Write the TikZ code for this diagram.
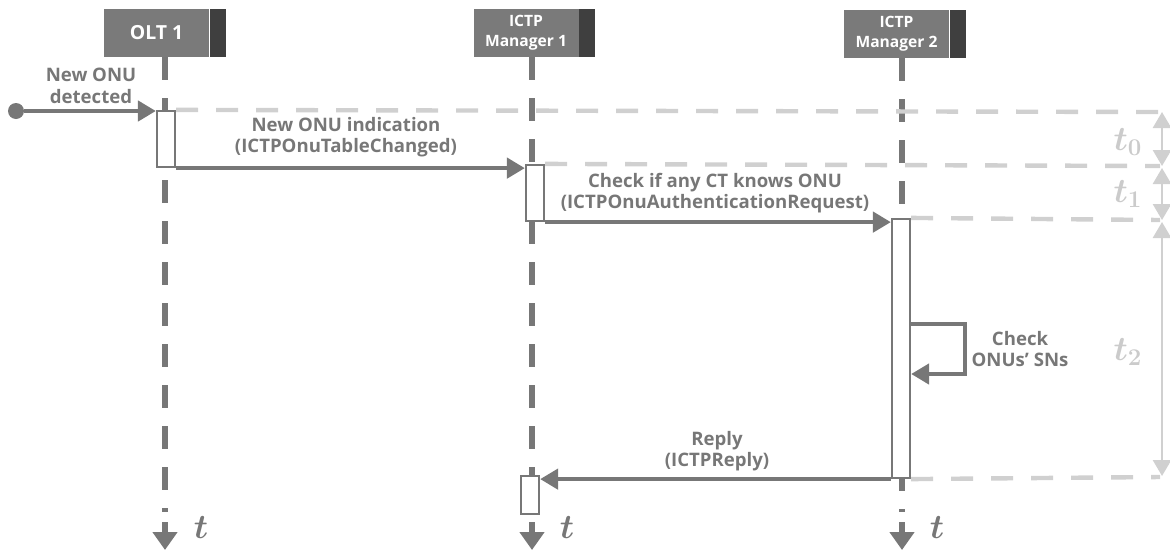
\documentclass[tikz,border=0pt]{standalone}
\usepackage{bm}
\usepackage{fontspec}
\setsansfont{Open Sans}
\usetikzlibrary{arrows.meta}
\definecolor{mid}{HTML}{777777}
\definecolor{hdr}{HTML}{7A7A7A}
\definecolor{hdrdark}{HTML}{3F3F3F}
\definecolor{light}{HTML}{D0D0D0}
\definecolor{tlight}{HTML}{CBCBCB}
\begin{document}
\begin{tikzpicture}[x=0.5pt,y=-0.5pt,
  font=\sffamily\bfseries,
  header/.style={fill=hdr, minimum width=52.5pt, minimum height=24pt, inner sep=0pt, text=white, align=center},
  strip/.style={fill=hdrdark, minimum width=8pt, minimum height=24pt, inner sep=0pt, anchor=west},
  life/.style={draw=mid, line width=2.6pt, dash pattern=on 11.5pt off 9pt},
  lifeend/.style={draw=mid, line width=2.6pt, -{Triangle[length=9pt,width=12pt]}},
  act/.style={draw=mid, fill=white, line width=1.1pt, minimum width=9pt, inner sep=0pt},
  msg/.style={draw=mid, line width=2.2pt, -{Triangle[length=9pt,width=10pt]}},
  lbl/.style={text=mid, align=center, font=\sffamily\bfseries\fontsize{9.3}{10.8}\selectfont},
  guide/.style={draw=light, line width=2.2pt, dash pattern=on 11pt off 9pt},
  span/.style={draw=light, line width=1.4pt, {Triangle[length=8pt,width=9pt]}-{Triangle[length=8pt,width=9pt]}},
  tl/.style={text=mid, font=\fontsize{17}{20}\selectfont},
  tg/.style={text=tlight, font=\fontsize{17}{20}\selectfont}]
\useasboundingbox (0,0) rectangle (1170,552);

% headers
\node[header, font=\sffamily\bfseries\fontsize{9.7}{11}\selectfont] (o) at (156.5,33) {OLT 1};
\node[strip] (os) at (o.east) {};
\node[header, font=\sffamily\bfseries\fontsize{7.8}{10}\selectfont] (m1) at (526,32.5) {ICTP\\Manager 1};
\node[strip] (m1s) at (m1.east) {};
\node[header, font=\sffamily\bfseries\fontsize{7.8}{10}\selectfont] (m2) at (896.5,33.5) {ICTP\\Manager 2};
\node[strip] (m2s) at (m2.east) {};

% lifeline coordinates
\coordinate (oT) at (165,57);  \coordinate (oB) at (165,512);
\coordinate (m1T) at (532,57); \coordinate (m1B) at (532,512);
\coordinate (m2T) at (902,58); \coordinate (m2B) at (902,512);
\coordinate (oE1) at (165,522);  \coordinate (oE2) at (165,550);
\coordinate (m1E1) at (532,522); \coordinate (m1E2) at (532,550);
\coordinate (m2E1) at (902,522); \coordinate (m2E2) at (902,550);

\draw[life] (oT) -- (oB);
\draw[life] (m1T) -- (m1B);
\draw[life] (m2T) -- (m2B);
\draw[lifeend] (oE1) -- (oE2);
\draw[lifeend] (m1E1) -- (m1E2);
\draw[lifeend] (m2E1) -- (m2E2);

% guide lines (time spans)
\coordinate (g0) at (1160,112);
\coordinate (g1) at (1160,166);
\coordinate (g2) at (1160,220);
\coordinate (g3) at (1160,477);
\coordinate (s0) at (1162,112);
\coordinate (s1) at (1162,166);
\coordinate (s2) at (1162,220);
\coordinate (s3) at (1162,476);

% activation boxes
\node[act, minimum height=28pt] (a0) at (166,139) {};
\node[act, minimum height=28pt] (a1) at (535,193) {};
\node[act, minimum height=129.5pt] (a2) at (901,348.5) {};
\node[act, minimum height=19pt] (a3) at (530,495) {};

\draw[guide] (a0.north east) -- (g0);
\draw[guide] (a1.north east) -- (g1);
\draw[guide] (a2.north east) -- (g2);
\draw[guide] (a2.south east) -- (g3);

\draw[span] (s0) -- (s1);
\draw[span] ([yshift=-1pt]s1) -- (s2);
\draw[span] ([yshift=-1pt]s2) -- (s3);
\node[tg] (t0) at (1128,142) {$\bm{t_0}$};
\node[tg] (t1) at (1128,194) {$\bm{t_1}$};
\node[tg] (t2) at (1128,352) {$\bm{t_2}$};

% start
\node[circle, fill=mid, minimum size=8pt, inner sep=0pt] (st) at (16,111) {};
\draw[msg] (st) -- (st -| a0.west);
\node[lbl] (l0) at (91,86) {New ONU\\detected};

% messages
\draw[msg] (a0.south east) -- (a0.south east -| a1.west);
\node[lbl] (l1) at (346,137) {New ONU indication\\(ICTPOnuTableChanged)};

\draw[msg] (a1.south east) -- (a1.south east -| a2.west);
\node[lbl] (l2) at (715,193) {Check if any CT knows ONU\\(ICTPOnuAuthenticationRequest)};

% self loop
\coordinate (lp1) at (965,324);
\coordinate (lp2) at (965,374);
\draw[msg] (a2.east |- lp1) -- (lp1) -- (lp2) -- (a2.east |- lp2);
\node[lbl] (l3) at (1020,349) {Check\\ONUs’ SNs};

% reply
\draw[msg] (a2.south west) -- (a2.south west -| a3.east);
\node[lbl] (l4) at (717,451) {Reply\\(ICTPReply)};

% t labels
\node[tl] (tt0) at (201,528) {$\bm{t}$};
\node[tl] (tt1) at (567,528) {$\bm{t}$};
\node[tl] (tt2) at (937,528) {$\bm{t}$};
\end{tikzpicture}
\end{document}
